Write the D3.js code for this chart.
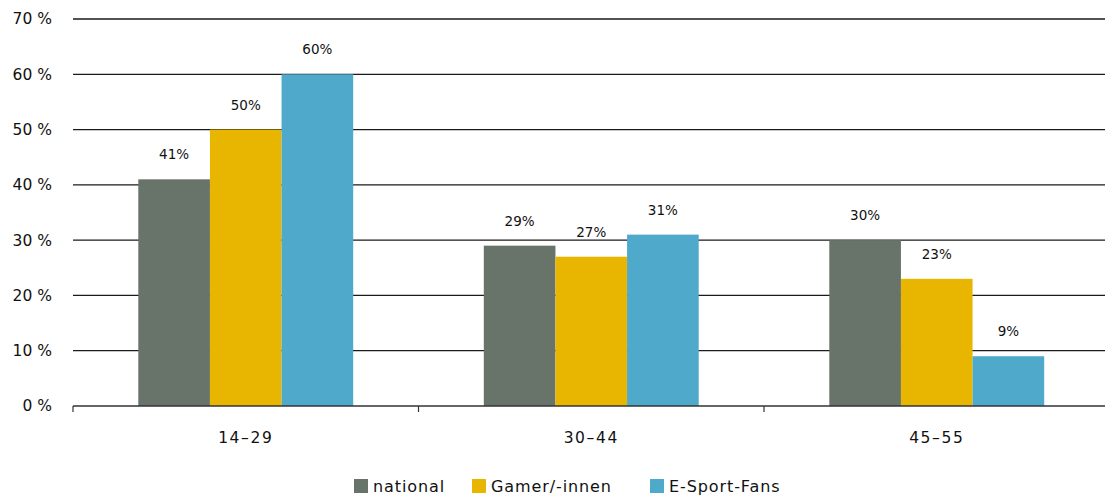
<!DOCTYPE html>
<html>
<head>
<meta charset="utf-8">
<script src="https://cdn.jsdelivr.net/npm/d3@7"></script>
<style>
  html, body { margin: 0; padding: 0; background: #fff; }
  svg { display: block; font-family: "DejaVu Sans", sans-serif; }
</style>
</head>
<body>
<svg id="chart" width="1105" height="497"></svg>
<script>
// Age groups, series and values (percent)
const categories = ["14–29", "30–44", "45–55"];
const seriesNames = ["national", "Gamer/-innen", "E-Sport-Fans"];
const national = [41, 29, 30];
const gamer = [50, 27, 23];
const esport = [60, 31, 9];
const yTicks = [0, 10, 20, 30, 40, 50, 60, 70];
const colors = ["#68736a", "#e8b500", "#4fa9cb"];

const seriesValues = [national, gamer, esport];

const svg = d3.select("#chart");
const plotLeft = 73, plotRight = 1109.5, plotTop = 19, plotBottom = 406;

const x0 = d3.scaleBand().domain(categories).range([plotLeft, plotRight]).padding(0);
const groupW = x0.bandwidth() * 0.622;
const x1 = d3.scaleBand().domain(seriesNames).range([0, groupW]).padding(0);
const y = d3.scaleLinear().domain([0, 70]).range([plotBottom, plotTop]);

// Horizontal gridlines
svg.append("g")
  .selectAll("line")
  .data(yTicks.filter(t => t > 0))
  .join("line")
  .attr("x1", plotLeft).attr("x2", 1105)
  .attr("y1", d => y(d)).attr("y2", d => y(d))
  .attr("stroke", "#1a1a1a").attr("stroke-width", 1.3);

// Y tick labels
svg.append("g")
  .selectAll("text")
  .data(yTicks)
  .join("text")
  .attr("x", 52).attr("y", d => y(d))
  .attr("dy", "0.35em")
  .attr("text-anchor", "end")
  .attr("font-size", 15.5)
  .attr("fill", "#111")
  .text(d => d + " %");

// Bars
const groups = svg.append("g")
  .selectAll("g")
  .data(categories)
  .join("g")
  .attr("transform", d => `translate(${x0(d) + (x0.bandwidth() - groupW) / 2},0)`);

groups.selectAll("rect")
  .data((c, i) => seriesNames.map((s, j) => ({ s, j, v: seriesValues[j][i] })))
  .join("rect")
  .attr("x", d => x1(d.s))
  .attr("width", x1.bandwidth())
  .attr("y", d => y(d.v))
  .attr("height", d => plotBottom - y(d.v))
  .attr("fill", d => colors[d.j]);

// Value labels
groups.selectAll("text")
  .data((c, i) => seriesNames.map((s, j) => ({ s, j, v: seriesValues[j][i] })))
  .join("text")
  .attr("x", d => x1(d.s) + x1.bandwidth() / 2)
  .attr("y", d => y(d.v) - 20)
  .attr("text-anchor", "middle")
  .attr("font-size", 13.5)
  .attr("fill", "#111")
  .text(d => d.v + "%");

// X axis
const xAxis = svg.append("g");
xAxis.append("line")
  .attr("x1", plotLeft).attr("x2", 1105)
  .attr("y1", plotBottom).attr("y2", plotBottom)
  .attr("stroke", "#333").attr("stroke-width", 1.5);
xAxis.selectAll("line.tick")
  .data(categories)
  .join("line")
  .attr("class", "tick")
  .attr("x1", d => x0(d)).attr("x2", d => x0(d))
  .attr("y1", plotBottom).attr("y2", plotBottom + 6)
  .attr("stroke", "#333").attr("stroke-width", 1.2);
xAxis.selectAll("text")
  .data(categories)
  .join("text")
  .attr("x", d => x0(d) + x0.bandwidth() / 2)
  .attr("y", 443)
  .attr("text-anchor", "middle")
  .attr("font-size", 15.5)
  .attr("letter-spacing", 1.6)
  .attr("fill", "#111")
  .text(d => d);

// Legend
const legendX = [354, 472, 650];
const legend = svg.append("g")
  .selectAll("g")
  .data(seriesNames)
  .join("g")
  .attr("transform", (d, i) => `translate(${legendX[i]},479)`);
legend.append("rect")
  .attr("width", 14).attr("height", 14)
  .attr("fill", (d, i) => colors[i]);
legend.append("text")
  .attr("x", 19).attr("y", 7)
  .attr("dy", "0.35em")
  .attr("font-size", 16)
  .attr("letter-spacing", 0.9)
  .attr("fill", "#111")
  .text(d => d);
</script>
</body>
</html>
